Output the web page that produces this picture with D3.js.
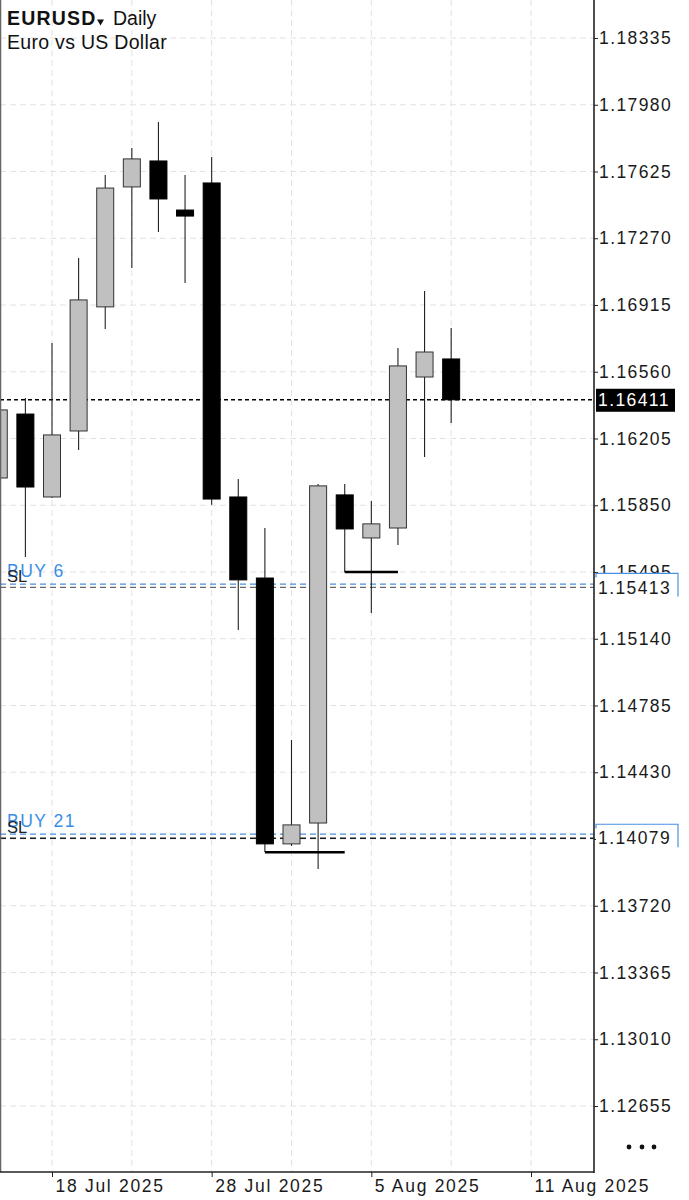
<html>
<head>
<style>
  body { margin: 0; background: #fff; }
  svg { display: block; font-family: "Liberation Sans", Arial, sans-serif; }
  .grid line { stroke: #e2e2e2; stroke-width: 1; stroke-dasharray: 6,4; }
  .axis text { font-size: 17.5px; letter-spacing: 1.4px; fill: #1a1a1a; }
  .axis line { stroke: #222; }
  .axis path { display: none; }
</style>
</head>
<body>
<script src="https://d3js.org/d3.v7.min.js"></script>
<script>
// daily bars, index 0 = 18 Jul 2025 (two bars before it are partly off the left edge)
var barIdx = [-2, -1, 0, 1, 2, 3, 4, 5, 6, 7, 8, 9, 10, 11, 12, 13, 14, 15];
var opens  = [1.15995, 1.16335, 1.15894, 1.16245, 1.16905, 1.17543, 1.17681, 1.17420, 1.17564, 1.15894, 1.15463, 1.14049, 1.14160, 1.15905, 1.15676, 1.15729, 1.16532, 1.16628];
var highs  = [1.16480, 1.16420, 1.16713, 1.17165, 1.17606, 1.17750, 1.17888, 1.17606, 1.17702, 1.15990, 1.15729, 1.14602, 1.15963, 1.15963, 1.15873, 1.16686, 1.16990, 1.16793];
var lows   = [1.15880, 1.15575, 1.15888, 1.16144, 1.16788, 1.17112, 1.17303, 1.17032, 1.15852, 1.15187, 1.14006, 1.14038, 1.13916, 1.15495, 1.15277, 1.15639, 1.16107, 1.16288];
var closes = [1.16357, 1.15947, 1.16224, 1.16942, 1.17537, 1.17692, 1.17479, 1.17388, 1.15883, 1.15453, 1.14049, 1.14150, 1.15953, 1.15724, 1.15751, 1.16591, 1.16665, 1.16411];

// price axis and date axis
var priceTicks = [1.18335, 1.17980, 1.17625, 1.17270, 1.16915, 1.16560, 1.16205, 1.15850, 1.15495,
                  1.15140, 1.14785, 1.14430, 1.14075, 1.13720, 1.13365, 1.13010, 1.12655];
var dateTickIdx = [0, 6, 12, 18];
var dateTickLabels = ["18 Jul 2025", "28 Jul 2025", "5 Aug 2025", "11 Aug 2025"];
var gridIdx = [0, 3, 6, 9, 12, 15, 18];

// trade objects
var orderNames = ["BUY 6", "BUY 21"];
var orderPrices = [1.15431, 1.14101];
var slPrices = [1.15413, 1.14079];
var slColors = ["#666", "#1e1e1e"];
var stepFrom = [8, 11];
var stepTo = [11, 13];
var stepPrice = [1.14005, 1.15495];
var lastPrice = 1.16411;

var W = 689, H = 1200;
var plotRight = 594, plotBottom = 1172;

var x = d3.scaleLinear().domain([0, 18]).range([52, 531]);
var y = d3.scaleLinear().domain([1.12655, 1.18335]).range([1106, 38]);
var bodyW = 17;

var svg = d3.select("body").append("svg").attr("width", W).attr("height", H);

svg.append("clipPath").attr("id", "plotclip")
   .append("rect").attr("x", 0).attr("y", 0).attr("width", plotRight).attr("height", plotBottom);

var plot = svg.append("g").attr("clip-path", "url(#plotclip)");

// grid
var grid = plot.append("g").attr("class", "grid");
grid.selectAll(".h").data(priceTicks).enter().append("line")
    .attr("x1", 0).attr("x2", plotRight)
    .attr("y1", function(d){ return y(d); }).attr("y2", function(d){ return y(d); });
grid.selectAll(".v").data(gridIdx).enter().append("line")
    .attr("y1", 0).attr("y2", plotBottom)
    .attr("x1", function(d){ return x(d); }).attr("x2", function(d){ return x(d); });

// order and stop lines
orderPrices.forEach(function(p, i){
    plot.append("line").attr("x1", 0).attr("x2", plotRight)
        .attr("y1", y(slPrices[i])).attr("y2", y(slPrices[i]))
        .attr("stroke", slColors[i]).attr("stroke-width", 1.3).attr("stroke-dasharray", "6,4");
    plot.append("line").attr("x1", 0).attr("x2", plotRight)
        .attr("y1", y(p)).attr("y2", y(p))
        .attr("stroke", "#4a90e2").attr("stroke-width", 1.3).attr("stroke-dasharray", "6,4");
});

// current price line
plot.append("line").attr("x1", 0).attr("x2", plotRight)
    .attr("y1", y(lastPrice)).attr("y2", y(lastPrice))
    .attr("stroke", "#000").attr("stroke-width", 1.5).attr("stroke-dasharray", "4,3");

// candles
var bars = barIdx.map(function(d, i){
    return {i: d, o: opens[i], h: highs[i], l: lows[i], c: closes[i]};
});
var candle = plot.selectAll(".candle").data(bars).enter().append("g");
candle.append("line")
    .attr("x1", function(d){ return x(d.i); }).attr("x2", function(d){ return x(d.i); })
    .attr("y1", function(d){ return y(d.h); }).attr("y2", function(d){ return y(d.l); })
    .attr("stroke", "#222").attr("stroke-width", 1.1);
candle.append("rect")
    .attr("x", function(d){ return x(d.i) - bodyW / 2; })
    .attr("width", bodyW)
    .attr("y", function(d){ return y(Math.max(d.o, d.c)); })
    .attr("height", function(d){ return Math.max(2, Math.abs(y(d.o) - y(d.c))); })
    .attr("fill", function(d){ return d.c >= d.o ? "#c0c0c0" : "#000"; })
    .attr("stroke", function(d){ return d.c >= d.o ? "#333" : "#000"; })
    .attr("stroke-width", 1);

// stop steps
stepPrice.forEach(function(p, i){
    plot.append("line").attr("x1", x(stepFrom[i])).attr("x2", x(stepTo[i]))
        .attr("y1", y(p)).attr("y2", y(p))
        .attr("stroke", "#000").attr("stroke-width", 2.5);
});

// order labels on the left
orderNames.forEach(function(n, i){
    svg.append("text").attr("x", 7).attr("y", y(orderPrices[i]) - 7)
        .attr("fill", "#3a8ee6").style("font-size", "17.5px").style("letter-spacing", "1.5px").text(n);
    svg.append("text").attr("x", 7).attr("y", y(slPrices[i]) - 5.5)
        .attr("fill", "#222").style("font-size", "16.5px").text("SL");
});

// frame
svg.append("line").attr("x1", 0.5).attr("x2", 0.5).attr("y1", 0).attr("y2", plotBottom)
   .attr("stroke", "#666").attr("stroke-width", 1.5);
svg.append("line").attr("x1", plotRight).attr("x2", plotRight).attr("y1", 0).attr("y2", plotBottom + 1)
   .attr("stroke", "#222").attr("stroke-width", 1.6);
svg.append("line").attr("x1", 0).attr("x2", plotRight).attr("y1", plotBottom).attr("y2", plotBottom)
   .attr("stroke", "#222").attr("stroke-width", 1.6);

// right price axis
svg.append("g").attr("class", "axis").attr("transform", "translate(" + plotRight + ",0)")
   .call(d3.axisRight(y).tickValues(priceTicks).tickFormat(d3.format(".5f")).tickSize(4).tickPadding(1));

// bottom date axis
var xa = svg.append("g").attr("class", "axis").attr("transform", "translate(0," + plotBottom + ")")
   .call(d3.axisBottom(x).tickValues(dateTickIdx)
        .tickFormat(function(d, i){ return dateTickLabels[i]; }).tickSize(5).tickPadding(3));
xa.selectAll("text").attr("text-anchor", "start").attr("x", 3).style("letter-spacing", "1.7px");

// price boxes for the stop levels
slPrices.forEach(function(p, i){
    var yy = y(p);
    svg.append("rect").attr("x", 596).attr("y", yy - 14).attr("width", 82).attr("height", 24).attr("fill", "#fff");
    svg.append("path").attr("d", "M596," + (yy - 10) + "V" + (yy - 14) + "H678V" + (yy + 9))
        .attr("fill", "none").attr("stroke", "#4a90e2").attr("stroke-width", 1.2);
    svg.append("text").attr("x", 598).attr("y", yy).attr("dy", "0.35em")
        .style("font-size", "17.5px").style("letter-spacing", "1.4px").attr("fill", "#1a1a1a")
        .text(d3.format(".5f")(p));
});

// current price box
svg.append("rect").attr("x", 596).attr("y", y(lastPrice) - 11).attr("width", 79).attr("height", 23).attr("fill", "#000");
svg.append("text").attr("x", 598).attr("y", y(lastPrice)).attr("dy", "0.35em")
   .style("font-size", "17.5px").style("letter-spacing", "1.4px").attr("fill", "#fff")
   .text(d3.format(".5f")(lastPrice));

// header
svg.append("text").attr("x", 7).attr("y", 25).style("font-size", "19.5px").style("font-weight", "bold")
   .style("letter-spacing", "1.2px").attr("fill", "#111").text("EURUSD");
svg.append("path").attr("d", "M97,19.5H104L100.5,25.5Z").attr("fill", "#111");
svg.append("text").attr("x", 113).attr("y", 25).style("font-size", "19.5px").attr("fill", "#111").text("Daily");
svg.append("text").attr("x", 7).attr("y", 49).style("font-size", "19.5px").style("letter-spacing", "0.3px")
   .attr("fill", "#111").text("Euro vs US Dollar");

// menu dots
svg.selectAll(".dot").data([629, 642, 654]).enter().append("circle")
   .attr("cx", function(d){ return d; }).attr("cy", 1147).attr("r", 2.4).attr("fill", "#111");
</script>
</body>
</html>
